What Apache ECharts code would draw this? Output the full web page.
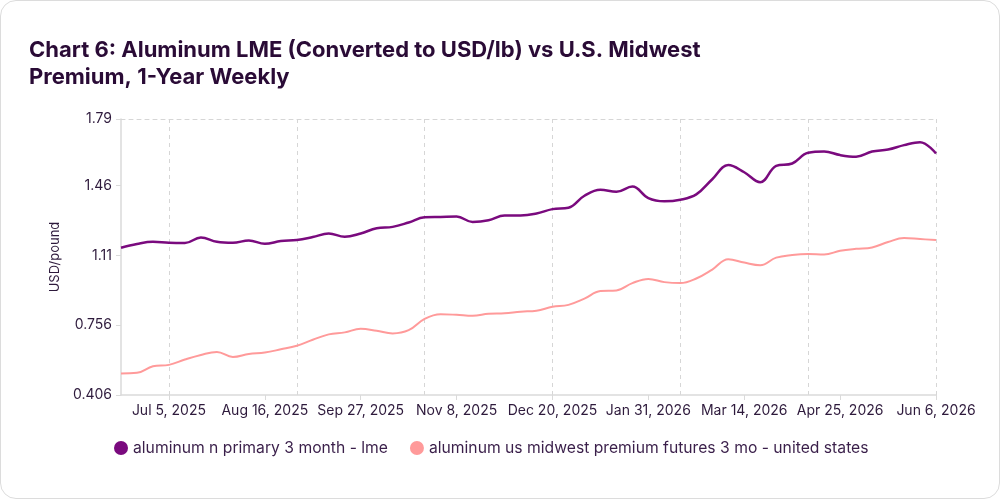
<!DOCTYPE html>
<html>
<head>
<meta charset="utf-8">
<script src="https://cdn.jsdelivr.net/npm/echarts@6/dist/echarts.min.js"></script>
<style>
  html, body { margin: 0; padding: 0; background: #fff; }
  #chart { width: 1000px; height: 499px; box-sizing: border-box; border: 1px solid #dcdcdc; border-radius: 16px; overflow: hidden; }
</style>
</head>
<body>
<div id="chart"></div>
<script>
// weekly dates
var dates = [
  "Jun 14, 2025", "Jun 21, 2025", "Jun 28, 2025", "Jul 5, 2025", "Jul 12, 2025", "Jul 19, 2025",
  "Jul 26, 2025", "Aug 2, 2025", "Aug 9, 2025", "Aug 16, 2025", "Aug 23, 2025", "Aug 30, 2025",
  "Sep 6, 2025", "Sep 13, 2025", "Sep 20, 2025", "Sep 27, 2025", "Oct 4, 2025", "Oct 11, 2025",
  "Oct 18, 2025", "Oct 25, 2025", "Nov 1, 2025", "Nov 8, 2025", "Nov 15, 2025", "Nov 22, 2025",
  "Nov 29, 2025", "Dec 6, 2025", "Dec 13, 2025", "Dec 20, 2025", "Dec 27, 2025", "Jan 3, 2026",
  "Jan 10, 2026", "Jan 17, 2026", "Jan 24, 2026", "Jan 31, 2026", "Feb 7, 2026", "Feb 14, 2026",
  "Feb 21, 2026", "Feb 28, 2026", "Mar 7, 2026", "Mar 14, 2026", "Mar 21, 2026", "Mar 28, 2026",
  "Apr 4, 2026", "Apr 11, 2026", "Apr 18, 2026", "Apr 25, 2026", "May 2, 2026", "May 9, 2026",
  "May 16, 2026", "May 23, 2026", "May 30, 2026", "Jun 6, 2026"
];

var lme = [
  1.144, 1.163, 1.174, 1.169, 1.168, 1.196, 1.174, 1.169, 1.181, 1.164,
  1.178, 1.183, 1.198, 1.216, 1.199, 1.216, 1.242, 1.249, 1.271, 1.297,
  1.299, 1.301, 1.274, 1.282, 1.306, 1.306, 1.316, 1.338, 1.345, 1.405,
  1.435, 1.425, 1.451, 1.393, 1.377, 1.385, 1.412, 1.488, 1.559, 1.523,
  1.473, 1.555, 1.567, 1.621, 1.627, 1.609, 1.601, 1.627, 1.637, 1.659,
  1.674, 1.617
];

var midwest = [
  0.514, 0.517, 0.550, 0.557, 0.584, 0.607, 0.622, 0.597, 0.612, 0.619,
  0.635, 0.653, 0.683, 0.710, 0.720, 0.738, 0.728, 0.715, 0.731, 0.788,
  0.811, 0.808, 0.803, 0.813, 0.816, 0.824, 0.829, 0.848, 0.858, 0.889,
  0.927, 0.930, 0.967, 0.988, 0.972, 0.967, 0.990, 1.035, 1.087, 1.070,
  1.057, 1.095, 1.108, 1.113, 1.111, 1.129, 1.139, 1.146, 1.173, 1.193,
  1.188, 1.183
];

var yMin = 0.406, yMax = 1.79, yStep = 0.35;
var seriesNames = ["aluminum n primary 3 month - lme", "aluminum us midwest premium futures 3 mo - united states"];

var textColor = "#2e1a3c";
var font = "Inter, 'Noto Sans', sans-serif";

var myChart = echarts.init(document.getElementById("chart"));
var option = {
  animation: false,
  textStyle: { fontFamily: font },
  title: {
    text: "Chart 6: Aluminum LME (Converted to USD/lb) vs U.S. Midwest\nPremium, 1-Year Weekly",
    left: 23, top: 31,
    textStyle: { fontSize: 22, fontWeight: 700, color: "#2a0b36", lineHeight: 27, fontFamily: font }
  },
  legend: {
    left: 108, top: 434,
    icon: "circle", itemWidth: 14, itemHeight: 14, itemGap: 22,
    textStyle: { fontSize: 15.7, color: "#3a1f4a", fontFamily: font },
    data: seriesNames
  },
  grid: { left: 120, right: 63, top: 118, bottom: 103 },
  xAxis: [{
    type: "category",
    data: dates,
    boundaryGap: false,
    axisLine: { lineStyle: { color: "#dadada", width: 1.5 } },
    axisTick: { show: true, length: 5, interval: function (i) { return (i - 3) % 6 === 0; }, lineStyle: { color: "#dadada" } },
    axisLabel: { interval: function (i) { return (i - 3) % 6 === 0; }, color: textColor, fontSize: 14, margin: 9 },
    splitLine: { show: true, interval: function (i) { return (i - 3) % 8 === 0; }, lineStyle: { color: "#d6d6d6", type: [4, 4] } }
  }, {
    type: "category",
    data: dates,
    boundaryGap: false,
    position: "top",
    axisLine: { show: true, lineStyle: { color: "#d6d6d6", type: [4, 4] } },
    axisTick: { show: false },
    axisLabel: { show: false },
    splitLine: { show: false }
  }],
  yAxis: {
    type: "value",
    min: yMin, max: yMax, interval: yStep,
    name: "USD/pound",
    nameLocation: "middle",
    nameGap: 55,
    nameTextStyle: { color: textColor, fontSize: 13 },
    axisLine: { show: true, lineStyle: { color: "#dadada", width: 1.5 } },
    axisTick: { show: true, length: 5, lineStyle: { color: "#dadada" } },
    axisLabel: {
      color: textColor, fontSize: 14, margin: 9,
      formatter: function (v) { return String(Number(v.toPrecision(3))); }
    },
    splitLine: { show: false }
  },
  series: [{
    name: seriesNames[0],
    type: "line",
    data: lme,
    smooth: 0.4,
    showSymbol: false,
    itemStyle: { color: "#7a0a7e" },
    lineStyle: { color: "#7a0a7e", width: 2.5 }
  }, {
    name: seriesNames[1],
    type: "line",
    data: midwest,
    smooth: 0.4,
    showSymbol: false,
    itemStyle: { color: "#ff9a9a" },
    lineStyle: { color: "#ff9a9a", width: 2 }
  }]
};
myChart.setOption(option);
window.addEventListener("resize", function () {
  myChart.resize();
});
</script>
</body>
</html>
